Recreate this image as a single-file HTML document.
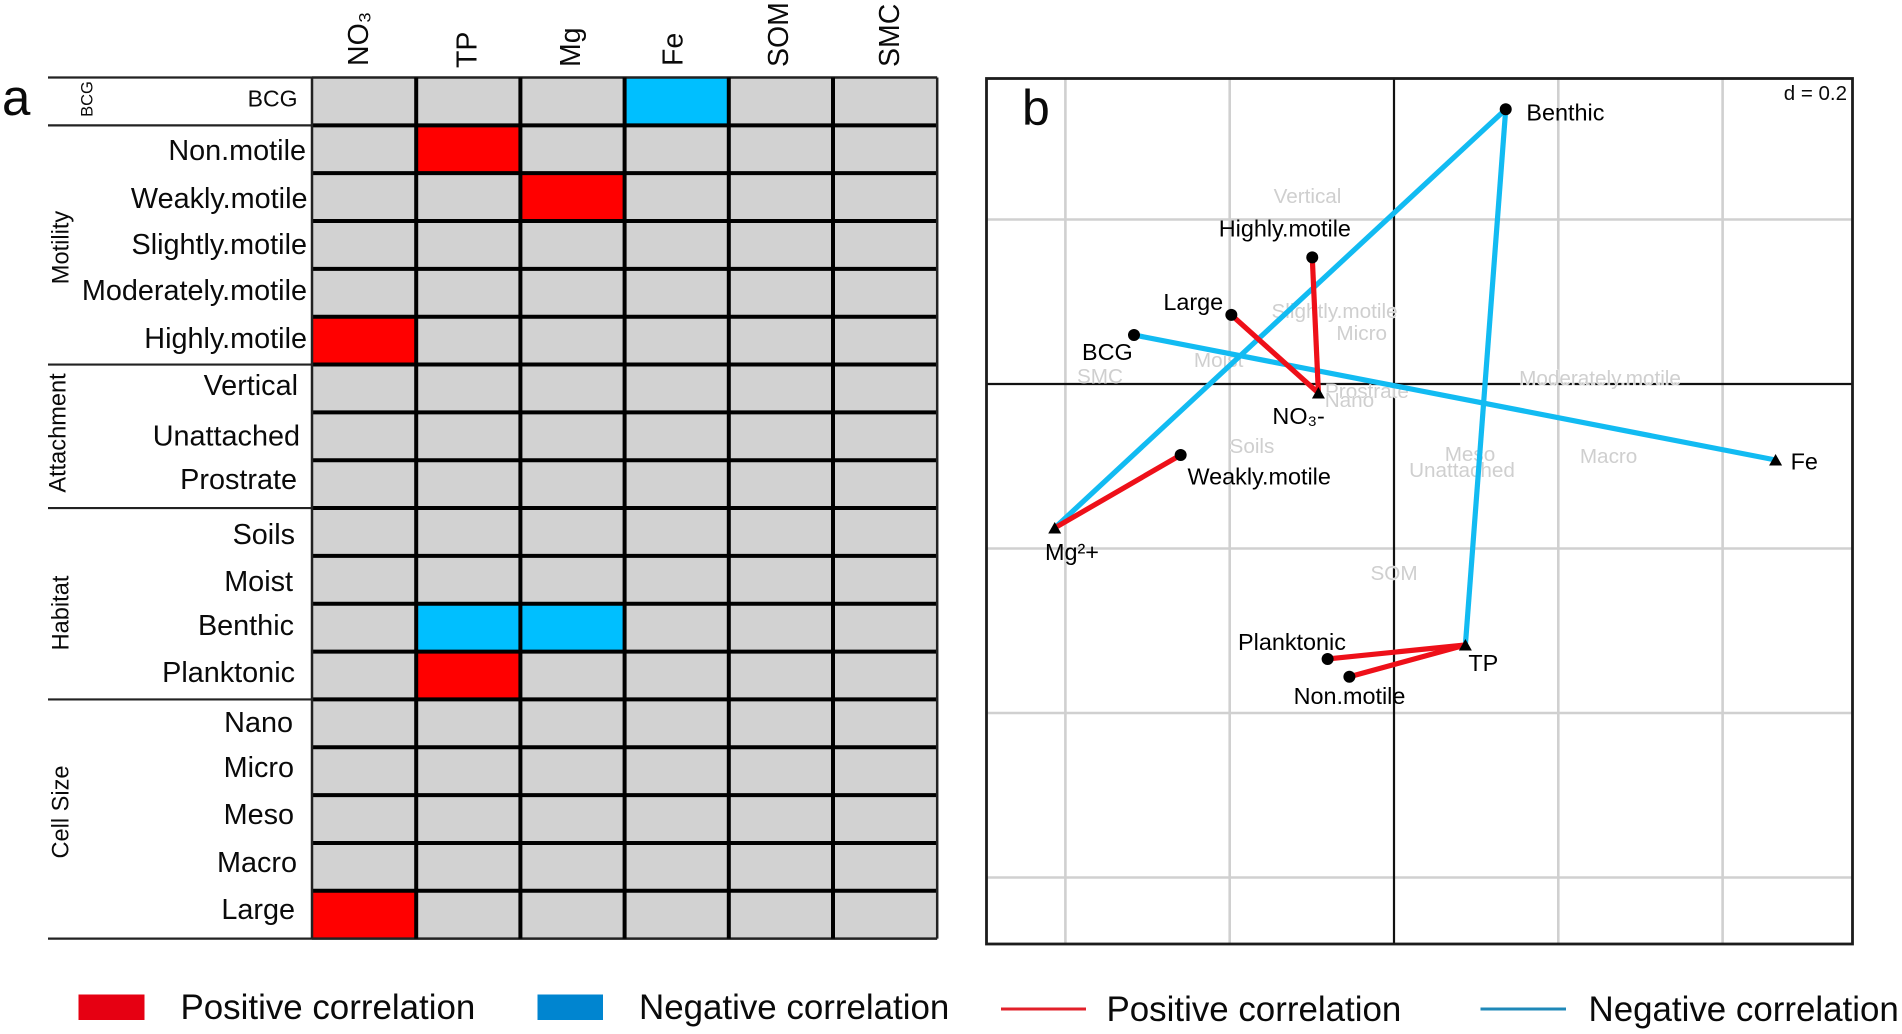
<!DOCTYPE html>
<html lang="en">
<head>
<meta charset="utf-8">
<title>Trait correlation heatmap and RLQ ordination</title>
<style>
  html, body { margin: 0; padding: 0; background: #fff; width: 1902px; height: 1034px; overflow: hidden; }
  svg { display: block; font-family: "Liberation Sans", sans-serif; }
  .row { font-size: 28.8px; fill: #0a0a0a; text-anchor: end; }
  .grp { font-size: 23.6px; fill: #0a0a0a; text-anchor: middle; }
  .col { font-size: 28.5px; fill: #0a0a0a; }
  .lab { font-size: 23.4px; fill: #000; }
  .trait { font-size: 20.7px; fill: #cfcfcf; text-anchor: middle; paint-order: stroke; stroke: #fff; stroke-width: 0.8px; }
  .leg { font-size: 34.9px; fill: #0a0a0a; }
  .panel { font-size: 51px; fill: #0a0a0a; }
</style>
</head>
<body>
<svg id="figure" xmlns="http://www.w3.org/2000/svg" width="1902" height="1034" viewBox="0 0 1902 1034">
  <rect width="1902" height="1034" fill="#fff"/>

  <!-- Panel a -->
  <text class="panel" x="2" y="115">a</text>
  <g id="heat-cells"></g>
  <g id="heat-lines"></g>
  <g id="group-lines"></g>

  <g>
    <text class="col" transform="translate(368,66) rotate(-90)">NO₃</text>
    <text class="col" transform="translate(476.7,68) rotate(-90)">TP</text>
    <text class="col" transform="translate(580,67) rotate(-90)">Mg</text>
    <text class="col" transform="translate(682.7,66) rotate(-90)">Fe</text>
    <text class="col" transform="translate(788,67) rotate(-90)">SOM</text>
    <text class="col" transform="translate(899,67) rotate(-90)">SMC</text>
  </g>

  <g>
    <text class="grp" style="font-size:16.5px" transform="translate(92.5,99) rotate(-90)">BCG</text>
    <text class="grp" transform="translate(68.5,247.5) rotate(-90)">Motility</text>
    <text class="grp" transform="translate(65.7,433) rotate(-90)">Attachment</text>
    <text class="grp" transform="translate(68.5,613) rotate(-90)">Habitat</text>
    <text class="grp" transform="translate(68.5,812) rotate(-90)">Cell Size</text>
  </g>

  <g>
    <text class="row" style="font-size:23px" x="297.5" y="106.5">BCG</text>
    <text class="row" x="306" y="160">Non.motile</text>
    <text class="row" x="307.5" y="208">Weakly.motile</text>
    <text class="row" x="307" y="254">Slightly.motile</text>
    <text class="row" x="307" y="300">Moderately.motile</text>
    <text class="row" x="307" y="348">Highly.motile</text>
    <text class="row" x="298" y="395">Vertical</text>
    <text class="row" x="300" y="445.7">Unattached</text>
    <text class="row" x="297" y="489">Prostrate</text>
    <text class="row" x="295" y="544">Soils</text>
    <text class="row" x="293" y="591">Moist</text>
    <text class="row" x="294" y="635">Benthic</text>
    <text class="row" x="295" y="682">Planktonic</text>
    <text class="row" x="293" y="732">Nano</text>
    <text class="row" x="294" y="777">Micro</text>
    <text class="row" x="294" y="824">Meso</text>
    <text class="row" x="297" y="872">Macro</text>
    <text class="row" x="295" y="919">Large</text>
  </g>

  <!-- Panel b -->
  <g id="ord-grid"></g>
  <g id="trait-labels">
    <text class="trait" dy="7" data-trait="0">Vertical</text>
    <text class="trait" dy="7" data-trait="1">Slightly.motile</text>
    <text class="trait" dy="7" data-trait="2">Micro</text>
    <text class="trait" dy="7" data-trait="3">Moist</text>
    <text class="trait" dy="7" data-trait="4">SMC</text>
    <text class="trait" dy="7" data-trait="5">Prostrate</text>
    <text class="trait" dy="7" data-trait="6">Nano</text>
    <text class="trait" dy="7" data-trait="7">Soils</text>
    <text class="trait" dy="7" data-trait="8">Moderately.motile</text>
    <text class="trait" dy="7" data-trait="9">Meso</text>
    <text class="trait" dy="7" data-trait="10">Unattached</text>
    <text class="trait" dy="7" data-trait="11">Macro</text>
    <text class="trait" dy="7" data-trait="12">SOM</text>
  </g>
  <g id="ord-links"></g>
  <g id="ord-points"></g>
  <rect x="986.5" y="78.5" width="866" height="865.5" fill="none" stroke="#1c1c1c" stroke-width="2.8"/>

  <g id="point-labels">
    <text class="lab" dx="-93.5" dy="-21" data-point="Highly.motile">Highly.motile</text>
    <text class="lab" dx="-68" dy="-5" data-point="Large">Large</text>
    <text class="lab" dx="-52" dy="25" data-point="BCG">BCG</text>
    <text class="lab" dx="20.7" dy="11" data-point="Benthic">Benthic</text>
    <text class="lab" dx="6.8" dy="29.5" data-point="Weakly.motile">Weakly.motile</text>
    <text class="lab" dx="-89.6" dy="-9" data-point="Planktonic">Planktonic</text>
    <text class="lab" dx="-55.8" dy="27.3" data-point="Non.motile">Non.motile</text>
    <text class="lab" dx="-46" dy="31" data-point="NO3">NO₃-</text>
    <text class="lab" dx="15" dy="9.3" data-point="Fe">Fe</text>
    <text class="lab" dx="-9.7" dy="32" data-point="Mg">Mg²+</text>
    <text class="lab" dx="3" dy="26" data-point="TP">TP</text>
  </g>

  <text class="panel" style="font-size:50px" x="1022" y="125">b</text>
  <text x="1847" y="100" text-anchor="end" font-size="20.5" fill="#0a0a0a">d = 0.2</text>

  <!-- Legends -->
  <g>
    <rect x="78.5" y="994.5" width="66" height="25.5" fill="#e60012"/>
    <text class="leg" x="180.5" y="1019">Positive correlation</text>
    <rect x="537.5" y="994.5" width="65.5" height="25.5" fill="#0085d0"/>
    <text class="leg" x="639" y="1019">Negative correlation</text>
  </g>
  <g>
    <line x1="1001" y1="1009" x2="1086" y2="1009" stroke="#e2202a" stroke-width="3"/>
    <text class="leg" x="1106.5" y="1021">Positive correlation</text>
    <line x1="1480.5" y1="1009" x2="1566" y2="1009" stroke="#1f88b8" stroke-width="3"/>
    <text class="leg" x="1588.5" y="1021">Negative correlation</text>
  </g>
</svg>

<script>
// Panel a data: correlation sign for each trait (row) vs environmental factor (column)
const heatColumns = ['NO3', 'TP', 'Mg', 'Fe', 'SOM', 'SMC'];
const heatRows = ['BCG', 'Non.motile', 'Weakly.motile', 'Slightly.motile', 'Moderately.motile', 'Highly.motile', 'Vertical', 'Unattached', 'Prostrate', 'Soils', 'Moist', 'Benthic', 'Planktonic', 'Nano', 'Micro', 'Meso', 'Macro', 'Large'];
const heatSigns = [
  [0, 0, 0, -1, 0, 0],
  [0, 1, 0, 0, 0, 0],
  [0, 0, 1, 0, 0, 0],
  [0, 0, 0, 0, 0, 0],
  [0, 0, 0, 0, 0, 0],
  [1, 0, 0, 0, 0, 0],
  [0, 0, 0, 0, 0, 0],
  [0, 0, 0, 0, 0, 0],
  [0, 0, 0, 0, 0, 0],
  [0, 0, 0, 0, 0, 0],
  [0, 0, 0, 0, 0, 0],
  [0, -1, -1, 0, 0, 0],
  [0, 1, 0, 0, 0, 0],
  [0, 0, 0, 0, 0, 0],
  [0, 0, 0, 0, 0, 0],
  [0, 0, 0, 0, 0, 0],
  [0, 0, 0, 0, 0, 0],
  [1, 0, 0, 0, 0, 0]
];
const groupBreaks = [0, 1, 6, 9, 13, 18];

// Panel b data: ordination scores (grid spacing d = 0.2)
const gridTicksX = [-0.4, -0.2, 0.2, 0.4];
const gridTicksY = [0.2, -0.2, -0.4, -0.6];
const traitX = [-0.1053, -0.0724, -0.0393, -0.2135, -0.3579, -0.0329, -0.0542, -0.1729, 0.2508, 0.0925, 0.0828, 0.2612, 0];
const traitY = [0.2286, 0.0888, 0.062, 0.0292, 0.0097, -0.0085, -0.0195, -0.0754, 0.0073, -0.0851, -0.1046, -0.0875, -0.2298];
const siteNames = ['Benthic', 'Highly.motile', 'Large', 'BCG', 'Weakly.motile', 'Planktonic', 'Non.motile'];
const siteX = [0.136, -0.0995, -0.198, -0.3165, -0.2597, -0.0808, -0.0543];
const siteY = [0.334, 0.154, 0.084, 0.0596, -0.0863, -0.3343, -0.3559];
const envNames = ['NO3', 'Fe', 'Mg', 'TP'];
const envX = [-0.092, 0.4645, -0.413, 0.0869];
const envY = [-0.011, -0.0924, -0.175, -0.3173];
const positiveFrom = ['Highly.motile', 'Large', 'Weakly.motile', 'Planktonic', 'Non.motile'];
const positiveTo = ['NO3', 'NO3', 'Mg', 'TP', 'TP'];
const negativeFrom = ['BCG', 'Benthic', 'Benthic'];
const negativeTo = ['Fe', 'Mg', 'TP'];

const NS = 'http://www.w3.org/2000/svg';
function make(tag, attrs, parent) {
  const el = document.createElementNS(NS, tag);
  for (const k in attrs) el.setAttribute(k, attrs[k]);
  parent.appendChild(el);
  return el;
}
function slug(s) { return String(s).toLowerCase().replace(/[^a-z0-9]+/g, '-'); }

// ---- Panel a ----
const heatLeft = 312, heatTop = 77.5, colStep = 104.2, rowStep = 47.84;
const colX = j => heatLeft + j * colStep;
const rowY = i => heatTop + i * rowStep;
const signColor = v => v > 0 ? '#ff0000' : v < 0 ? '#00bfff' : '#d2d2d2';

const cellsG = document.getElementById('heat-cells');
heatRows.forEach((rowName, i) => {
  heatColumns.forEach((colName, j) => {
    const cell = make('rect', { x: colX(j), y: rowY(i), width: colStep, height: rowStep, fill: signColor(heatSigns[i][j]) }, cellsG);
    
    
  });
});

const linesG = document.getElementById('heat-lines');
const heatRight = colX(heatColumns.length), heatBottom = rowY(heatRows.length);
for (let i = 0; i <= heatRows.length; i++) {
  const edge = i === 0 || i === heatRows.length;
  const hl = make('line', { x1: heatLeft, x2: heatRight, y1: rowY(i), y2: rowY(i), stroke: edge ? '#222' : '#000', 'stroke-width': edge ? 2.5 : 4 }, linesG);
  
  
}
for (let j = 0; j <= heatColumns.length; j++) {
  const edge = j === 0 || j === heatColumns.length;
  const vl = make('line', { x1: colX(j), x2: colX(j), y1: heatTop, y2: heatBottom, stroke: edge ? '#222' : '#000', 'stroke-width': edge ? 2.5 : 4 }, linesG);
  
  
}
const groupG = document.getElementById('group-lines');
groupBreaks.forEach(b => {
  const gl = make('line', { x1: 48, x2: heatLeft, y1: rowY(b), y2: rowY(b), stroke: '#222', 'stroke-width': 2.2 }, groupG);
  
  
});

// ---- Panel b ----
const originX = 1394, originY = 384, unitX = 164.3 / 0.2, unitY = 164.5 / 0.2;
const xScale = v => originX + v * unitX;
const yScale = v => originY - v * unitY;
const frameL = 986.5, frameR = 1852.5, frameT = 78.5, frameB = 944;

const gridG = document.getElementById('ord-grid');
gridTicksX.forEach(v => {
  const g = make('line', { x1: xScale(v), x2: xScale(v), y1: frameT, y2: frameB, stroke: '#d0d0d0', 'stroke-width': 2.6 }, gridG);
  
  
});
gridTicksY.forEach(v => {
  const g = make('line', { x1: frameL, x2: frameR, y1: yScale(v), y2: yScale(v), stroke: '#d0d0d0', 'stroke-width': 2.6 }, gridG);
  
  
});
const axisV = make('line', { x1: xScale(0), x2: xScale(0), y1: frameT, y2: frameB, stroke: '#111', 'stroke-width': 2.2 }, gridG);


const axisH = make('line', { x1: frameL, x2: frameR, y1: yScale(0), y2: yScale(0), stroke: '#111', 'stroke-width': 2.2 }, gridG);



document.querySelectorAll('#trait-labels text').forEach(t => {
  const idx = +t.getAttribute('data-trait');
  t.setAttribute('x', xScale(traitX[idx]));
  t.setAttribute('y', yScale(traitY[idx]));
});

function coords(name) {
  let i = siteNames.indexOf(name);
  if (i >= 0) return [xScale(siteX[i]), yScale(siteY[i])];
  i = envNames.indexOf(name);
  return [xScale(envX[i]), yScale(envY[i])];
}

const linksG = document.getElementById('ord-links');
function drawLinks(from, to, color, kind) {
  from.forEach((a, i) => {
    const p = coords(a), q = coords(to[i]);
    const ln = make('line', { x1: p[0], y1: p[1], x2: q[0], y2: q[1], stroke: color, 'stroke-width': 5.2 }, linksG);
    
    
  });
}
drawLinks(negativeFrom, negativeTo, '#12bbf2', 'negative');
drawLinks(positiveFrom, positiveTo, '#ee1019', 'positive');

const pointsG = document.getElementById('ord-points');
siteNames.forEach(n => {
  const p = coords(n);
  const c = make('circle', { cx: p[0], cy: p[1], r: 6, fill: '#000' }, pointsG);
  
  
});
envNames.forEach(n => {
  const p = coords(n);
  const pts = [[p[0], p[1] - 6], [p[0] - 6.5, p[1] + 5.5], [p[0] + 6.5, p[1] + 5.5]].map(a => a.join(',')).join(' ');
  const tri = make('polygon', { points: pts, fill: '#000' }, pointsG);
  
  
});

document.querySelectorAll('#point-labels text').forEach(t => {
  const p = coords(t.getAttribute('data-point'));
  t.setAttribute('x', p[0]);
  t.setAttribute('y', p[1]);
});
</script>
</body>
</html>
